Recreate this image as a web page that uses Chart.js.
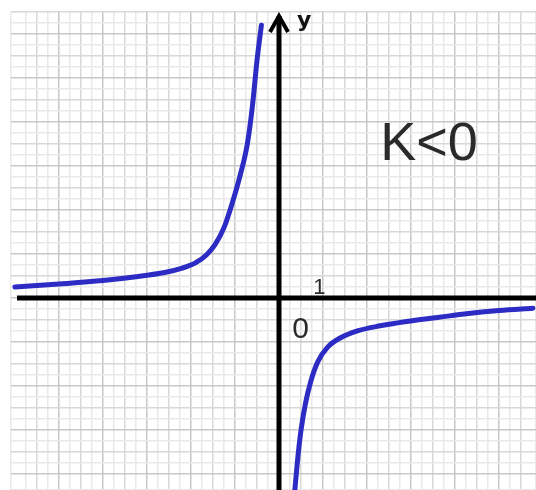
<!DOCTYPE html>
<html>
<head>
<meta charset="utf-8">
<script src="https://cdn.jsdelivr.net/npm/chart.js@4"></script>
<style>
  html, body { margin: 0; padding: 0; background: #fff; }
  #wrap { width: 536px; height: 490px; }
</style>
</head>
<body>
<div id="wrap"><canvas id="hyperbola"></canvas></div>
<script>
// left branch of y = k/x, k < 0 (x < 0)
const leftX = [-6.0, -5.0, -4.0, -3.2, -2.6, -2.2, -1.9, -1.65, -1.45, -1.25, -1.05, -0.88, -0.72, -0.60, -0.50, -0.40];
const leftY = [0.25, 0.32, 0.40, 0.49, 0.58, 0.68, 0.80, 0.98, 1.22, 1.60, 2.20, 2.80, 3.50, 4.40, 5.40, 6.20];
// right branch (x > 0)
const rightX = [0.36, 0.42, 0.50, 0.60, 0.72, 0.88, 1.10, 1.40, 1.80, 2.30, 2.90, 3.60, 4.30, 5.00, 5.77];
const rightY = [-4.36, -3.70, -3.00, -2.40, -1.90, -1.45, -1.12, -0.90, -0.74, -0.63, -0.53, -0.44, -0.35, -0.28, -0.23];

const xMin = -6.09, xMax = 5.84;
const yMin = -4.36, yMax = 6.5;
const gridStep = 0.25;
const curveColor = '#2c2cc4';

const toPoints = (xs, ys) => xs.map((x, i) => ({ x: x, y: ys[i] }));

// grid paper: darker on whole units, medium on halves
function gridColor(ctx) {
  const v = ctx.tick ? ctx.tick.value : 0;
  if (Math.abs(v - Math.round(v)) < 1e-6) return '#c8c8c8';
  if (Math.abs(v * 2 - Math.round(v * 2)) < 1e-6) return '#d8d8d8';
  return '#e9e9e9';
}

const axesPlugin = {
  id: 'axesPlugin',
  afterDatasetsDraw(chart) {
    const ctx = chart.ctx;
    const xs = chart.scales.x, ys = chart.scales.y;
    const ox = xs.getPixelForValue(0), oy = ys.getPixelForValue(0);
    ctx.save();
    ctx.strokeStyle = '#000';
    ctx.lineWidth = 5;
    ctx.lineCap = 'butt';
    // x axis
    ctx.beginPath();
    ctx.moveTo(17, oy);
    ctx.lineTo(chart.width, oy);
    ctx.stroke();
    // y axis with arrow
    ctx.beginPath();
    ctx.moveTo(ox, chart.height);
    ctx.lineTo(ox, 16);
    ctx.stroke();
    ctx.lineWidth = 4;
    ctx.lineJoin = 'miter';
    ctx.beginPath();
    ctx.moveTo(ox - 9, 32);
    ctx.lineTo(ox, 16);
    ctx.lineTo(ox + 9, 32);
    ctx.stroke();

    ctx.fillStyle = '#111';
    ctx.textBaseline = 'alphabetic';
    ctx.font = 'bold 22px "DejaVu Sans"';
    ctx.fillText('y', ox + 18, 27);
    ctx.fillStyle = '#2a2a2a';
    ctx.font = '22px "Liberation Sans"';
    ctx.fillText('1', xs.getPixelForValue(0.78), oy - 4);
    ctx.font = '30px "Liberation Sans"';
    ctx.fillText('0', xs.getPixelForValue(0.3), oy + 40);
    ctx.font = '54px "Liberation Sans"';
    ctx.fillText('K<0', xs.getPixelForValue(2.3), ys.getPixelForValue(3.14));
    ctx.restore();
  }
};

const chart = new Chart(document.getElementById('hyperbola').getContext('2d'), {
  type: 'line',
  data: {
    datasets: [
      { data: toPoints(leftX, leftY), borderColor: curveColor, backgroundColor: curveColor },
      { data: toPoints(rightX, rightY), borderColor: curveColor, backgroundColor: curveColor }
    ]
  },
  options: {
    responsive: true,
    maintainAspectRatio: false,
    animation: false,
    layout: { padding: { left: 11, top: 12, right: 0, bottom: 0 } },
    datasets: {
      line: {
        borderWidth: 5,
        pointRadius: 0,
        fill: false,
        cubicInterpolationMode: 'monotone',
        borderCapStyle: 'round'
      }
    },
    plugins: {
      legend: { display: false },
      tooltip: { enabled: false }
    },
    scales: {
      x: {
        type: 'linear',
        min: xMin,
        max: xMax,
        ticks: { display: false, stepSize: gridStep, autoSkip: false },
        grid: { color: gridColor, lineWidth: 1.5, drawTicks: false },
        border: { display: false }
      },
      y: {
        type: 'linear',
        min: yMin,
        max: yMax,
        ticks: { display: false, stepSize: gridStep, autoSkip: false },
        grid: { color: gridColor, lineWidth: 1.5, drawTicks: false },
        border: { display: false }
      }
    }
  },
  plugins: [axesPlugin]
});
</script>
</body>
</html>
